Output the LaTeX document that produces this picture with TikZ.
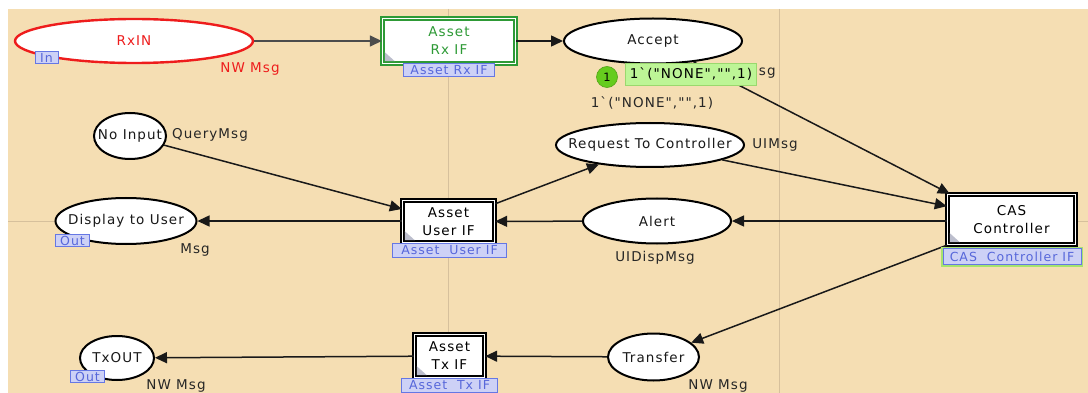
\documentclass[tikz,border=0pt]{standalone}
\usepackage{fontspec}
\newfontfamily\cpnfont{DejaVu Sans}[LetterSpace=8]
\usetikzlibrary{shapes.geometric,arrows.meta}
\definecolor{wheatbg}{HTML}{F5DEB3}
\definecolor{gridc}{HTML}{D6C09C}
\definecolor{tagfill}{HTML}{CDD1F6}
\definecolor{tagdraw}{HTML}{6577E4}
\definecolor{tagtext}{HTML}{5767DA}
\definecolor{rxgreen}{HTML}{2E9A36}
\definecolor{markfill}{HTML}{BDF596}
\definecolor{markdraw}{HTML}{9AD86E}
\definecolor{tokfill}{HTML}{66CC1E}
\definecolor{glow}{HTML}{A6E36E}
\definecolor{placered}{HTML}{EE1C1C}
\begin{document}
\begin{tikzpicture}[x=1pt,y=-1pt,
  font=\cpnfont\fontsize{13.5}{16}\selectfont,
  place/.style={ellipse, draw=black, line width=2pt, fill=white, inner sep=0pt},
  plabel/.style={inner sep=0pt, text=black!90},
  subst/.style={rectangle, draw=black, line width=1.4pt, double=white, double distance=1.8pt, fill=white, align=center, inner sep=0pt, font=\cpnfont\fontsize{13.5}{18}\selectfont},
  tag/.style={rectangle, draw=tagdraw, line width=1pt, fill=tagfill, text=tagtext, inner sep=0pt, font=\cpnfont\fontsize{12.5}{14}\selectfont},
  typelbl/.style={inner sep=0pt, text=black!85},
  arc/.style={draw=black!90, line width=1.5pt, -{Triangle[length=12pt,width=11pt]}},
  corner/.style={fill=tagfill!70!black!60}
]
\useasboundingbox (0,0) rectangle (1088,393);
\fill[white] (0,0) rectangle (1088,393);
\fill[wheatbg] (8,9) rectangle (1088,393);
\draw[gridc, line width=1pt] (448,9) -- (448,393);
\draw[gridc, line width=1pt] (779,9) -- (779,393);
\draw[gridc, line width=1pt] (8,222) -- (1088,222);

% places
\node[place, draw=placered, line width=2.4pt, minimum width=238, minimum height=44, label={[plabel, text=placered]center:RxIN}] (rxin) at (134,41) {};
\node[place, minimum width=178, minimum height=45, label={[plabel]center:Accept}] (accept) at (653,41) {};
\node[place, minimum width=72, minimum height=46, label={[plabel]center:No Input}] (noinput) at (130,136) {};
\node[place, minimum width=188, minimum height=44, label={[plabel]center:Request To Controller}] (req) at (650,145) {};
\node[place, minimum width=141, minimum height=46, label={[plabel]center:Display to User}] (display) at (126,221) {};
\node[place, minimum width=148, minimum height=45, label={[plabel]center:Alert}] (alert) at (657,221) {};
\node[place, minimum width=91, minimum height=47, label={[plabel]center:Transfer}] (transfer) at (653.5,357) {};
\node[place, minimum width=74, minimum height=44, label={[plabel]center:TxOUT}] (txout) at (117,358) {};

% substitution transitions
\node[subst, draw=rxgreen, text=rxgreen, minimum width=133, minimum height=45] (rxif) at (449,41) {Asset\\Rx IF};
\node[subst, minimum width=92, minimum height=42] (userif) at (448.5,221.5) {Asset\\User IF};
\node[subst, minimum width=128, minimum height=50] (cas) at (1011.5,219.5) {CAS\\Controller};
\node[subst, minimum width=70, minimum height=43] (txif) at (449.5,356) {Asset\\Tx IF};

% corner marks of substitution tags
\fill[corner] ([shift={(3,-3)}]rxif.south west) -- ++(0,-9) -- ++(10,9) -- cycle;
\fill[corner] ([shift={(3,-3)}]userif.south west) -- ++(0,-9) -- ++(10,9) -- cycle;
\fill[corner] ([shift={(3,-3)}]cas.south west) -- ++(0,-9) -- ++(10,9) -- cycle;
\fill[corner] ([shift={(3,-3)}]txif.south west) -- ++(0,-9) -- ++(10,9) -- cycle;

% arcs
\draw[arc, draw=black!70] (rxin) -- (rxif);
\draw[arc] (rxif) -- (accept);
\draw[arc] (accept) -- ([xshift=3pt]cas.north west);
\draw[arc] (noinput) -- (userif);
\draw[arc] (userif) -- (req);
\draw[arc] (req) -- (cas);
\draw[arc] (cas.west |- 0,221) -- (alert.east);
\draw[arc] (alert) -- (userif);
\draw[arc] (userif.west |- 0,221) -- (display.east);
\draw[arc] (cas.south west) -- (transfer);
\draw[arc] (transfer) -- (txif);
\draw[arc] (txif) -- (txout);

% port / substitution tags
\node[tag, minimum width=23, minimum height=12] (tagin) at (46.5,58) {In};
\node[tag, minimum width=34, minimum height=12] (tagout1) at (72.5,240.5) {Out};
\node[tag, minimum width=34, minimum height=12] (tagout2) at (87.5,376.5) {Out};
\node[tag, minimum width=91, minimum height=13] (tagrx) at (449,70.5) {Asset Rx IF};
\node[tag, minimum width=114, minimum height=14] (taguser) at (449.5,250.5) {Asset\ \ User IF};
\node[tag, minimum width=96, minimum height=14] (tagtx) at (449.5,385.5) {Asset\ \ Tx IF};
\node[tag, preaction={draw=glow, line width=4pt}, minimum width=138, minimum height=16] (tagcas) at (1012,256.5) {CAS\ \ Controller IF};

% type labels
\node[typelbl, text=placered] (lrxin) at (250,69) {NW Msg};
\node[typelbl] (lacc) at (746,72) {NW Msg};
\node[typelbl] (lnoin) at (210,135) {QueryMsg};
\node[typelbl] (lreq) at (775,145) {UIMsg};
\node[typelbl] (ldisp) at (195,250) {Msg};
\node[typelbl] (lalert) at (655,258) {UIDispMsg};
\node[typelbl] (ltrans) at (718,386) {NW Msg};
\node[typelbl] (ltxout) at (176,386) {NW Msg};

% initial marking and current marking
\node[typelbl] (init) at (652,103) {1\symbol{96}(\symbol{34}NONE\symbol{34},\symbol{34}\symbol{34},1)};
\node[rectangle, fill=markfill, draw=markdraw, line width=0.8pt, minimum width=131, minimum height=22, inner sep=0pt] (mark) at (691,74) {1\symbol{96}(\symbol{34}NONE\symbol{34},\symbol{34}\symbol{34},1)};
\node[circle, fill=tokfill, draw=tokfill!80!black, line width=0.6pt, minimum size=21, inner sep=0pt, font=\cpnfont\fontsize{11.5}{12}\selectfont] (tok) at (607,77) {1};
\end{tikzpicture}
\end{document}
